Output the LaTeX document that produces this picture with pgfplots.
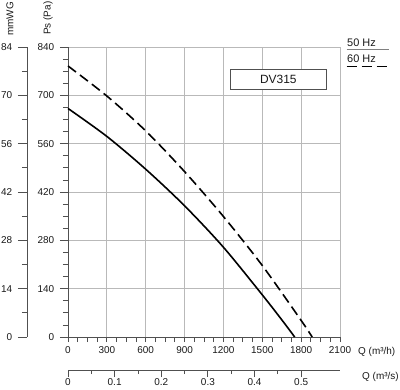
\documentclass[border=0pt]{standalone}
\usepackage{pgfplots}
\pgfplotsset{compat=1.18}
\usepackage{fontspec}
\setmainfont{Liberation Sans}
\definecolor{gridc}{RGB}{185,185,185}
\definecolor{axc}{RGB}{80,80,80}
\definecolor{txt}{RGB}{25,25,25}
\pgfplotsset{
  every axis/.append style={
    /pgf/number format/.cd, assume math mode=true, 1000 sep={},
    /pgfplots/.cd,
    tick label style={font=\fontsize{10}{12}\selectfont, text=txt},
    axis line style={-, draw=axc, line width=0.8bp},
    every tick/.style={draw=axc, line width=0.8bp},
    tick align=outside,
  }
}
\begin{document}
\fontsize{10}{12}\selectfont
\begin{tikzpicture}
% main axis
\begin{axis}[
  at={(0,0)}, anchor=south west,
  scale only axis, width=272bp, height=290bp,
  xmin=0, xmax=2100, ymin=0, ymax=840,
  axis x line*=bottom, axis y line*=left,
  xtick={0,300,...,2100}, ytick={0,140,...,840},
  minor x tick num=3, minor y tick num=3,
  grid=major, major grid style={draw=gridc, line width=0.8bp},
  xtick style={/pgfplots/major tick length=5bp, /pgfplots/minor tick length=5bp},
  ytick style={/pgfplots/major tick length=8bp, /pgfplots/minor tick length=5bp},
  yticklabel style={xshift=-6bp},
  xticklabel style={yshift=-2bp},
  clip=false,
]
\addplot[black, line width=1.6bp, smooth] coordinates {
  (0,662) (300,581) (600,486) (900,380) (1200,260) (1500,122) (1650,50) (1750,0)
};
\addplot[black, line width=1.6bp, smooth, dash pattern=on 10bp off 5bp] coordinates {
  (0,785) (300,698) (600,597) (900,479) (1200,349) (1500,207) (1800,48) (1885,0)
};
\end{axis}
% mmWG axis
\begin{axis}[
  at={(-41bp,0)}, anchor=south west,
  scale only axis, width=10bp, height=290bp,
  xmin=0, xmax=1, ymin=0, ymax=84,
  hide x axis, axis y line*=left,
  ytick={0,14,...,84}, minor y tick num=1,
  ytick style={/pgfplots/major tick length=9bp, /pgfplots/minor tick length=5bp},
  yticklabel style={xshift=-7bp},
]
\addplot[draw=none] coordinates {(0,0)};
\end{axis}
% m3/s axis
\begin{axis}[
  at={(0,-33bp)}, anchor=south west,
  scale only axis, width=272bp, height=10bp,
  xmin=0, xmax=0.5833333, ymin=0, ymax=1,
  hide y axis, axis x line*=bottom,
  xtick={0,0.1,...,0.5}, minor x tick num=1,
  xticklabels={0,0.1,0.2,0.3,0.4,0.5},
  xtick style={/pgfplots/major tick length=7bp, /pgfplots/minor tick length=4bp},
  xticklabel style={yshift=-1bp},
]
\addplot[draw=none] coordinates {(0,0)};
\end{axis}
% labels
\node[rotate=90, anchor=west, inner sep=0, text=txt] at (-58bp,301bp) {mmWG};
\node[rotate=90, anchor=west, inner sep=0, text=txt] at (-20bp,302bp) {Ps (Pa)};
\node[anchor=west, inner sep=0, text=txt] at (290bp,-15bp) {Q (m³/h)};
\node[anchor=west, inner sep=0, text=txt] at (294bp,-40bp) {Q (m³/s)};
% legend
\node[anchor=base west, inner sep=0, text=txt, font=\fontsize{11}{13}\selectfont] at (279bp,290bp) {50 Hz};
\draw[gray, line width=1bp] (278.7bp,287bp) -- (321.3bp,287bp);
\node[anchor=base west, inner sep=0, text=txt, font=\fontsize{11}{13}\selectfont] at (279bp,274bp) {60 Hz};
\draw[black, line width=1.6bp, dash pattern=on 10bp off 5bp] (278.7bp,270.3bp) -- (321.3bp,270.3bp);
% model box
\draw[draw=axc, fill=white, line width=0.8bp] (162bp,247.7bp) rectangle (258.7bp,268bp);
\node[text=txt, font=\fontsize{12}{14}\selectfont] at (210.3bp,258bp) {DV315};
\pgfresetboundingbox
\path (-68bp,-53bp) rectangle (332bp,337bp);
\end{tikzpicture}
\end{document}
